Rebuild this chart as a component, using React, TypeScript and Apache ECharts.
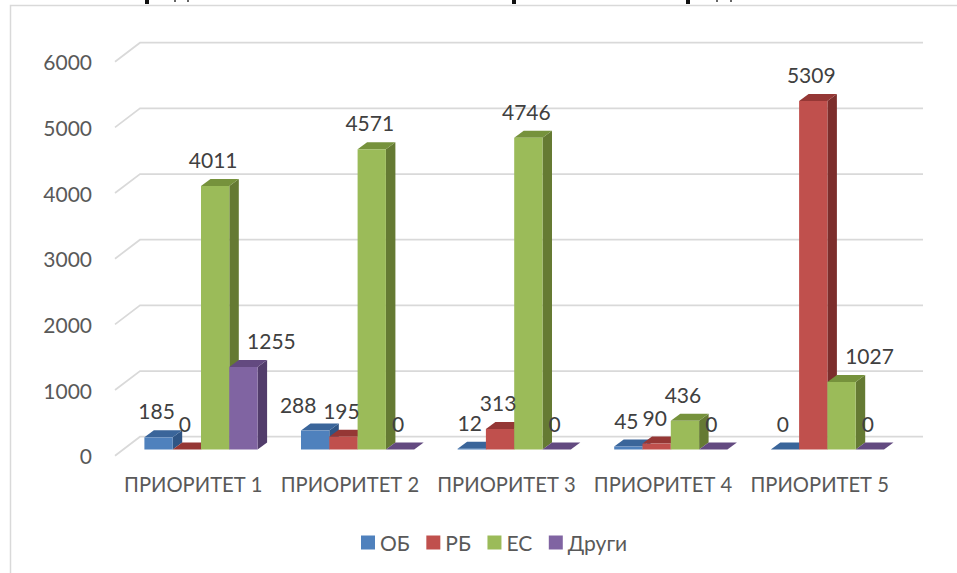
import React, { useEffect, useRef } from "react";
import * as echarts from "echarts";

const categories = ["ПРИОРИТЕТ 1", "ПРИОРИТЕТ 2", "ПРИОРИТЕТ 3", "ПРИОРИТЕТ 4", "ПРИОРИТЕТ 5"];
const seriesNames = ["ОБ", "РБ", "ЕС", "Други"];
const ob = [185, 288, 12, 45, 0];
const rb = [0, 195, 313, 90, 5309];
const es = [4011, 4571, 4746, 436, 1027];
const drugi = [1255, 0, 0, 0, 0];
const valueTicks = [0, 1000, 2000, 3000, 4000, 5000, 6000];

const FONT = "Lato, 'Noto Sans', sans-serif";
const FONT_SIZE = 21;
const BAR_W = 28.3;
const SHIFT_X = 7.7, SHIFT_Y = 6.2; // bars stand this far inside the floor
const BAR_DX = 9.5, BAR_DY = 7;     // depth of a bar
const WALL_DX = 25, WALL_DY = 19;   // depth of the floor

const palette = [
  { front: "#4F81BD", top: "#3A659A", side: "#2F5585" },
  { front: "#C0504D", top: "#953735", side: "#7C2E2C" },
  { front: "#9BBB59", top: "#76923C", side: "#657A33" },
  { front: "#8064A2", top: "#634A80", side: "#523D6B" },
];
// hand-moved data labels: [series, category, dx]
const labelNudges: [number, number, number][] = [
  [3, 0, 30],
  [0, 1, -15],
  [2, 4, 30],
];
// what remains visible of the title cropped off at the top edge: [x, width, height, colour]
const titleRemnants: [number, number, number, string][] = [
  [145, 4, 4, "#111"],
  [512, 4, 4, "#111"],
  [686, 4, 4, "#111"],
  [174, 2, 2, "#666"],
  [187, 2, 2, "#666"],
  [716, 2, 2, "#666"],
  [730, 2, 2, "#666"],
];

function barSeries(name: string, values: number[], s: number) {
  const c = palette[s];
  return {
    name,
    type: "custom",
    z: 3,
    coordinateSystem: "cartesian2d",
    encode: { x: 0, y: 1 },
    itemStyle: { color: c.front },
    data: values.map((v, i) => [i, v]),
    renderItem: (_p: any, api: any) => {
      const cat = api.value(0);
      const v = api.value(1);
      const [cx, yTop0] = api.coord([cat, v]);
      const [, yBase0] = api.coord([cat, 0]);
      const x0 = cx + SHIFT_X + (s - 2) * BAR_W;
      const x1 = x0 + BAR_W;
      const yT = yTop0 - SHIFT_Y;
      const yB = yBase0 - SHIFT_Y;
      const nudge = labelNudges.find((n) => n[0] === s && n[1] === cat);
      const lx = x0 + BAR_W / 2 - 2 + (nudge ? nudge[2] : 0);
      return {
        type: "group",
        children: [
          {
            type: "polygon",
            shape: { points: [[x1, yT], [x1 + BAR_DX, yT - BAR_DY], [x1 + BAR_DX, yB - BAR_DY], [x1, yB]] },
            style: { fill: c.side },
          },
          {
            type: "polygon",
            shape: { points: [[x0, yT], [x0 + BAR_DX, yT - BAR_DY], [x1 + BAR_DX, yT - BAR_DY], [x1, yT]] },
            style: { fill: c.top },
          },
          {
            type: "rect",
            shape: { x: x0, y: yT, width: BAR_W, height: yB - yT },
            style: { fill: c.front },
          },
          {
            type: "text",
            z2: 50,
            style: {
              x: lx,
              y: yT - 26.5,
              text: String(v),
              fill: "#404040",
              font: `${FONT_SIZE}px ${FONT}`,
              align: "center",
              verticalAlign: "middle",
            },
          },
        ],
      };
    },
  };
}

export default function App() {
  const ref = useRef<HTMLDivElement>(null);
  useEffect(() => {
    const chart = echarts.init(ref.current!, undefined, { renderer: "svg" });
    chart.setOption({
      animation: false,
      backgroundColor: "#fff",
      textStyle: { fontFamily: FONT },
      grid: { left: 115, right: 59, top: 61.7, bottom: 117.3, containLabel: false },
      xAxis: {
        type: "category",
        data: categories,
        axisLine: { show: false },
        axisTick: { show: false },
        axisLabel: { color: "#595959", fontSize: 20.2, fontFamily: FONT, margin: 18, interval: 0 },
      },
      yAxis: {
        type: "value",
        min: 0,
        max: 6000,
        interval: 1000,
        axisLine: { show: false },
        axisTick: { show: false },
        splitLine: { show: false },
        axisLabel: { color: "#595959", fontSize: FONT_SIZE, fontFamily: FONT, margin: 23, formatter: (v: number) => String(v) },
      },
      legend: {
        data: seriesNames,
        left: 356,
        top: 527,
        icon: "rect",
        itemWidth: 14,
        itemHeight: 14,
        itemGap: 16.5,
        textStyle: { color: "#595959", fontSize: FONT_SIZE, fontFamily: FONT },
      },
      graphic: [
        {
          type: "polyline",
          silent: true,
          shape: { points: [[10.5, 573], [10.5, 5.5], [957, 5.5]] },
          style: { stroke: "#d9d9d9", lineWidth: 1.5, fill: "none" },
        },
        ...titleRemnants.map(([x, w, h, color]) => ({
          type: "rect",
          silent: true,
          shape: { x, y: 0, width: w, height: h },
          style: { fill: color },
        })),
      ],
      series: [
        {
          name: "wall",
          type: "custom",
          z: 1,
          silent: true,
          coordinateSystem: "cartesian2d",
          encode: { y: 0 },
          data: valueTicks.map((t) => [t]),
          renderItem: (p: any, api: any) => {
            const r = p.coordSys;
            const [, y] = api.coord([0, api.value(0)]);
            return {
              type: "polyline",
              shape: {
                points: [
                  [r.x, y],
                  [r.x + WALL_DX, y - WALL_DY],
                  [r.x + r.width + WALL_DX, y - WALL_DY],
                ],
              },
              style: { stroke: "#d9d9d9", lineWidth: 1.7, fill: "none" },
            };
          },
        },
        barSeries(seriesNames[0], ob, 0),
        barSeries(seriesNames[1], rb, 1),
        barSeries(seriesNames[2], es, 2),
        barSeries(seriesNames[3], drugi, 3),
      ],
    });
    return () => chart.dispose();
  }, []);
  return <div ref={ref} style={{ position: "absolute", left: 0, top: 0, width: 957, height: 573 }} />;
}
